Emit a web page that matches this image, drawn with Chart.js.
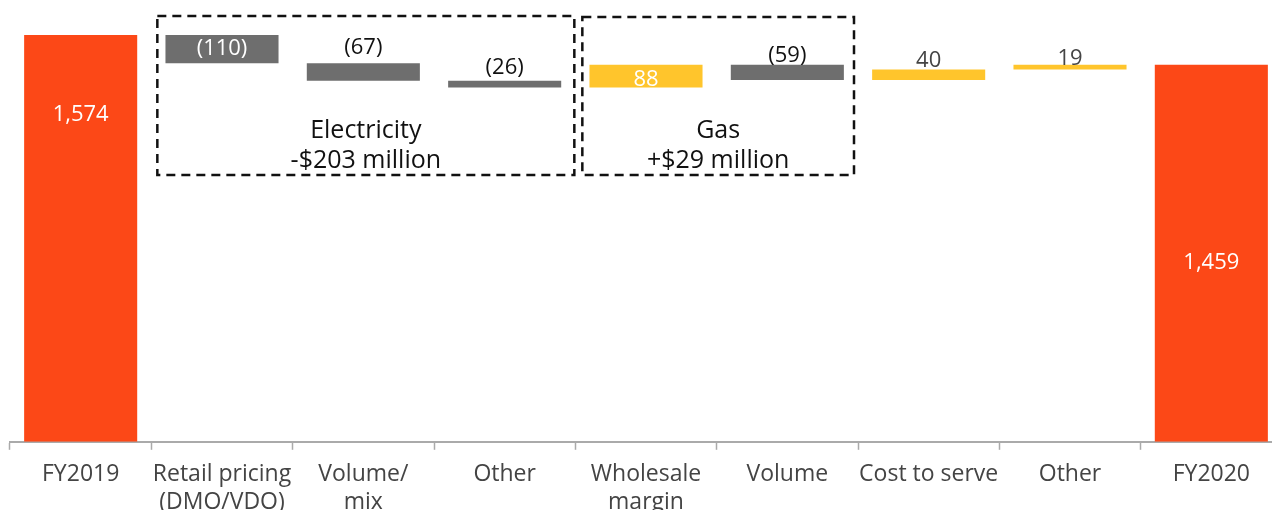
<!DOCTYPE html>
<html>
<head>
<meta charset="utf-8">
<script src="https://cdn.jsdelivr.net/npm/chart.js@4"></script>
<style>
    html, body { margin: 0; padding: 0; background: #fff; overflow: hidden; }
    #wrap { width: 1282px; height: 527px; position: relative; }
</style>
</head>
<body>
<div id="wrap"><canvas id="bridgeChart"></canvas></div>
<script>
// EBITDA bridge FY2019 -> FY2020 ($m)
const categories = ['FY2019', ['Retail pricing', '(DMO/VDO)'], ['Volume/', 'mix'], 'Other',
    ['Wholesale', 'margin'], 'Volume', 'Cost to serve', 'Other', 'FY2020'];
const startTotal = 1574;
const movements = [-110, -67, -26, 88, -59, 40, 19];
const endTotal = 1459;
const groups = [
    { name: 'Electricity', note: '-$203 million', from: 1, to: 3 },
    { name: 'Gas', note: '+$29 million', from: 4, to: 5 }
];

const ORANGE = '#FC4817';
const GREY = '#6E6E6E';
const YELLOW = '#FFC52C';

// floating bars built from running total
const bars = [[0, startTotal]];
const values = [startTotal];
let running = startTotal;
movements.forEach(m => {
    bars.push([running, running + m]);
    values.push(m);
    running += m;
});
bars.push([0, endTotal]);
values.push(endTotal);

const barColors = values.map((v, i) => {
    if (i === 0 || i === values.length - 1) return ORANGE;
    return v < 0 ? GREY : YELLOW;
});

// label placement: mode + pixel offset, colour
const labelStyle = [
    { mode: 'top', dy: 80, color: '#fff' },
    { mode: 'mid', dy: 0, color: '#fff' },
    { mode: 'above', dy: -16, color: '#111' },
    { mode: 'above', dy: -13, color: '#111' },
    { mode: 'mid', dy: 4, color: '#fff' },
    { mode: 'above', dy: -9, color: '#111' },
    { mode: 'above', dy: -9, color: '#444' },
    { mode: 'above', dy: -6, color: '#444' },
    { mode: 'mid', dy: 10, color: '#fff' }
];

function fmt(v, i) {
    if (i === 0 || i === values.length - 1) return v.toLocaleString('en-US');
    return v < 0 ? '(' + (-v) + ')' : String(v);
}

const barLabels = {
    id: 'barLabels',
    afterDatasetsDraw(chart) {
        const c = chart.ctx;
        const meta = chart.getDatasetMeta(0);
        c.save();
        c.font = '22px "Open Sans"';
        c.textAlign = 'center';
        c.textBaseline = 'middle';
        meta.data.forEach((el, i) => {
            const top = Math.min(el.y, el.base);
            const bottom = Math.max(el.y, el.base);
            const st = labelStyle[i];
            let y;
            if (st.mode === 'mid') y = (top + bottom) / 2 + st.dy;
            else y = top + st.dy;
            c.fillStyle = st.color;
            c.fillText(fmt(values[i], i), el.x, y);
        });
        c.restore();
    }
};

const groupBoxes = {
    id: 'groupBoxes',
    afterDatasetsDraw(chart) {
        const c = chart.ctx;
        const x = chart.scales.x;
        const half = (x.getPixelForValue(1) - x.getPixelForValue(0)) / 2;
        c.save();
        c.strokeStyle = '#111';
        c.lineWidth = 2.5;
        c.setLineDash([9, 6]);
        c.font = '25px "Open Sans"';
        c.textAlign = 'center';
        c.textBaseline = 'middle';
        c.fillStyle = '#111';
        const insets = [[6, 1], [7, 4]];
        groups.forEach((g, k) => {
            const left = x.getPixelForValue(g.from) - half + insets[k][0];
            const right = x.getPixelForValue(g.to) + half - insets[k][1];
            const top = 16 + k;
            const bottom = 175;
            c.strokeRect(left, top, right - left, bottom - top);
            const cx = (left + right) / 2;
            c.fillText(g.name, cx, 131);
            c.fillText(g.note, cx, 161);
        });
        c.restore();
    }
};

const ctx = document.getElementById('bridgeChart').getContext('2d');
new Chart(ctx, {
    type: 'bar',
    data: {
        labels: categories,
        datasets: [{
            data: bars,
            backgroundColor: barColors,
            borderWidth: 0,
            barPercentage: 0.8,
            categoryPercentage: 1.0
        }]
    },
    options: {
        responsive: true,
        maintainAspectRatio: false,
        animation: false,
        layout: { padding: { left: 10, right: 0, top: 0, bottom: 0 } },
        plugins: {
            legend: { display: false },
            tooltip: { enabled: false }
        },
        scales: {
            x: {
                offset: true,
                grid: {
                    offset: true,
                    drawOnChartArea: false,
                    drawTicks: true,
                    tickLength: 8,
                    tickColor: '#aaa',
                    tickWidth: 1.5
                },
                border: { color: '#aaa', width: 2 },
                ticks: {
                    color: '#444',
                    font: { family: 'Open Sans', size: 23 },
                    padding: 11,
                    autoSkip: false,
                    maxRotation: 0,
                    minRotation: 0
                }
            },
            y: {
                display: false,
                min: 0,
                max: 1709
            }
        }
    },
    plugins: [barLabels, groupBoxes]
});
</script>
</body>
</html>
